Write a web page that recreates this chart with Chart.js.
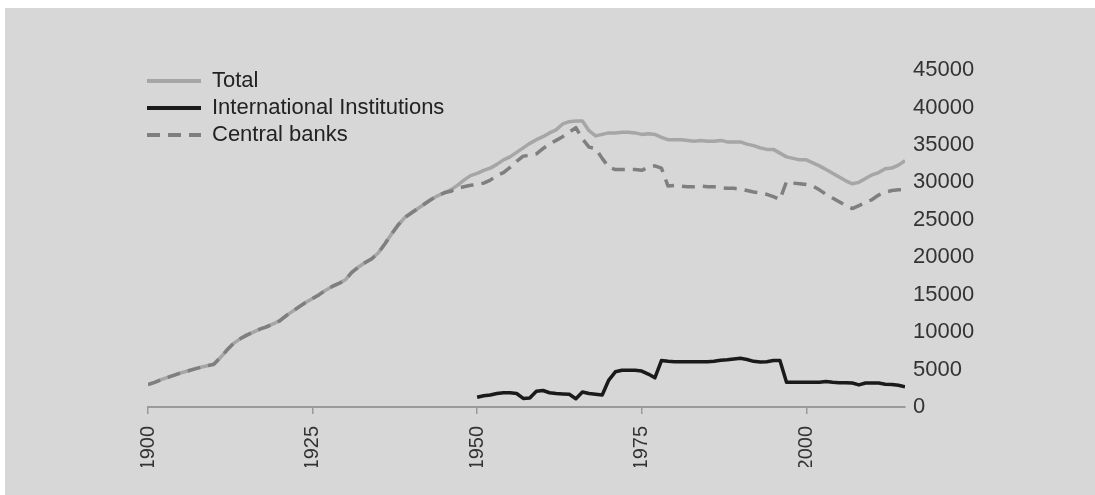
<!DOCTYPE html>
<html>
<head>
<meta charset="utf-8">
<script src="https://cdn.jsdelivr.net/npm/chart.js@4.4.1/dist/chart.umd.min.js"></script>
<style>
  html, body { margin: 0; padding: 0; background: #ffffff; }
  #panel { position: absolute; left: 5px; top: 8px; width: 1090px; height: 487px; background: #d7d7d7; }
  #chart { position: absolute; left: 0; top: 0; }
</style>
</head>
<body>
<div id="panel"><canvas id="chart" width="1090" height="487"></canvas></div>
<script>
// Holdings by year, 1900–2015
const years = Array.from({ length: 116 }, (_, i) => 1900 + i);
const xTicks = [1900, 1925, 1950, 1975, 2000];

const total = [
  3000, 3300, 3650, 3950, 4250, 4550, 4800, 5050, 5300, 5500,
  5700, 6600, 7600, 8500, 9100, 9600, 10000, 10400, 10700, 11100,
  11500, 12200, 12800, 13400, 14000, 14500, 15000, 15600, 16100, 16500,
  17000, 18000, 18700, 19300, 19800, 20600, 21800, 23100, 24300, 25300,
  25900, 26500, 27100, 27700, 28200, 28600, 29000, 29600, 30300, 30900,
  31200, 31600, 31900, 32400, 33000, 33400, 34000, 34600, 35200, 35700,
  36100, 36600, 37000, 37800, 38100, 38200, 38200, 36900, 36200, 36400,
  36600, 36600, 36700, 36700, 36600, 36400, 36500, 36400, 36000, 35700,
  35700, 35700, 35600, 35500, 35600, 35500, 35500, 35600, 35400, 35400,
  35400, 35100, 34900, 34600, 34400, 34400, 33900, 33400, 33200, 33000,
  33000, 32600, 32200, 31700, 31200, 30700, 30200, 29800, 30000, 30500,
  31000, 31300, 31800, 31900, 32300, 32900
];

const centralBanks = [
  3000, 3300, 3650, 3950, 4250, 4550, 4800, 5050, 5300, 5500,
  5700, 6600, 7600, 8500, 9100, 9600, 10000, 10400, 10700, 11100,
  11500, 12200, 12800, 13400, 14000, 14500, 15000, 15600, 16100, 16500,
  17000, 18000, 18700, 19300, 19800, 20600, 21800, 23100, 24300, 25300,
  25900, 26500, 27100, 27700, 28200, 28600, 28800, 29200, 29400, 29600,
  29700, 29900, 30300, 30900, 31300, 32000, 32800, 33500, 33600, 33800,
  34500, 35100, 35600, 36100, 36700, 37300, 35800, 34700, 34500, 33200,
  32000, 31700, 31700, 31700, 31700, 31600, 32000, 32200, 31900, 29500,
  29600, 29500, 29400, 29400, 29500, 29400, 29400, 29300, 29200, 29200,
  29100, 28900, 28700, 28600, 28400, 28100, 27700, 30100, 29900, 29800,
  29700, 29500, 29000, 28400, 27900, 27400, 26900, 26500, 26900, 27300,
  27700, 28300, 28700, 28900, 29000, 29000
];

// International Institutions, 1950–2015
const intlStart = 1950;
const intlInstitutions = [
  1300, 1500, 1600, 1800, 1900, 1900, 1800, 1150, 1200, 2100,
  2200, 1900, 1800, 1750, 1700, 1100, 2000, 1800, 1700, 1600,
  3600, 4700, 4900, 4900, 4900, 4800, 4400, 3900, 6200, 6100,
  6050, 6050, 6050, 6050, 6050, 6050, 6100, 6250, 6300, 6400,
  6500, 6350, 6100, 6000, 6050, 6200, 6200, 3300, 3300, 3300,
  3300, 3300, 3300, 3400, 3300, 3250, 3250, 3200, 2950, 3200,
  3200, 3200, 3050, 3000, 2900, 2700
];

const yTicks = { min: 0, max: 45000, step: 5000 };

const pts = (arr, x0) => arr.map((v, i) => ({ x: x0 + i, y: v }));
const FONT = 'Liberation Sans, Arial, Helvetica, sans-serif';

// keep the legend in the top-left corner of the plot
const legendPos = {
  id: 'legendPos',
  afterLayout(chart) {
    const lg = chart.legend;
    if (!lg) return;
    const h = lg.bottom - lg.top;
    lg.left = chart.chartArea.left - 6;
    lg.top = chart.chartArea.top - 5;
    lg.bottom = lg.top + h;
  },
};

new Chart(document.getElementById('chart'), {
  type: 'line',
  data: {
    datasets: [
      { label: 'Total', data: pts(total, years[0]), borderColor: '#a6a6a6', borderWidth: 3.5, order: 3 },
      { label: 'International Institutions', data: pts(intlInstitutions, intlStart), borderColor: '#1a1a1a', borderWidth: 3.5, order: 1 },
      { label: 'Central banks', data: pts(centralBanks, years[0]), borderColor: '#7f7f7f', borderWidth: 3.5, borderDash: [13, 8], order: 2 },
    ],
  },
  plugins: [legendPos],
  options: {
    responsive: false,
    devicePixelRatio: 1,
    animation: false,
    layout: { padding: { left: 143, top: 62, right: 90, bottom: 28 } },
    elements: { point: { radius: 0 }, line: { tension: 0, borderJoinStyle: 'round', fill: false } },
    plugins: {
      tooltip: { enabled: false },
      legend: {
        position: 'chartArea',
        align: 'start',
        padding: 0,
        labels: {
          font: { family: FONT, size: 22 },
          color: '#222',
          padding: 5,
          usePointStyle: true,
          pointStyleWidth: 54,
          generateLabels: (chart) => chart.data.datasets.map((ds, i) => ({
            text: ds.label,
            strokeStyle: ds.borderColor,
            fillStyle: ds.borderColor,
            lineWidth: 4,
            lineDash: ds.borderDash || [],
            pointStyle: 'line',
            datasetIndex: i,
            hidden: false,
            fontColor: '#222',
          })),
        },
      },
    },
    scales: {
      x: {
        type: 'linear',
        min: 1900,
        max: 2015,
        afterBuildTicks: (s) => { s.ticks = xTicks.map((v) => ({ value: v })); },
        afterFit: (s) => { s.height = 60; },
        border: { display: true, color: '#9a9a9a', width: 2 },
        grid: { display: true, drawOnChartArea: false, drawTicks: true, tickLength: 7, color: '#9a9a9a', lineWidth: 1.5 },
        ticks: {
          autoSkip: false,
          minRotation: 90,
          maxRotation: 90,
          padding: 12,
          color: '#333',
          font: { family: FONT, size: 20 },
          callback: (v) => String(v),
        },
      },
      y: {
        position: 'right',
        min: yTicks.min,
        max: yTicks.max,
        afterFit: (s) => { s.width = 100; },
        border: { display: false },
        grid: { display: false, drawTicks: false },
        ticks: {
          stepSize: yTicks.step,
          padding: 8,
          color: '#333',
          font: { family: FONT, size: 22 },
          callback: (v) => String(v),
        },
      },
    },
  },
});
</script>
</body>
</html>
